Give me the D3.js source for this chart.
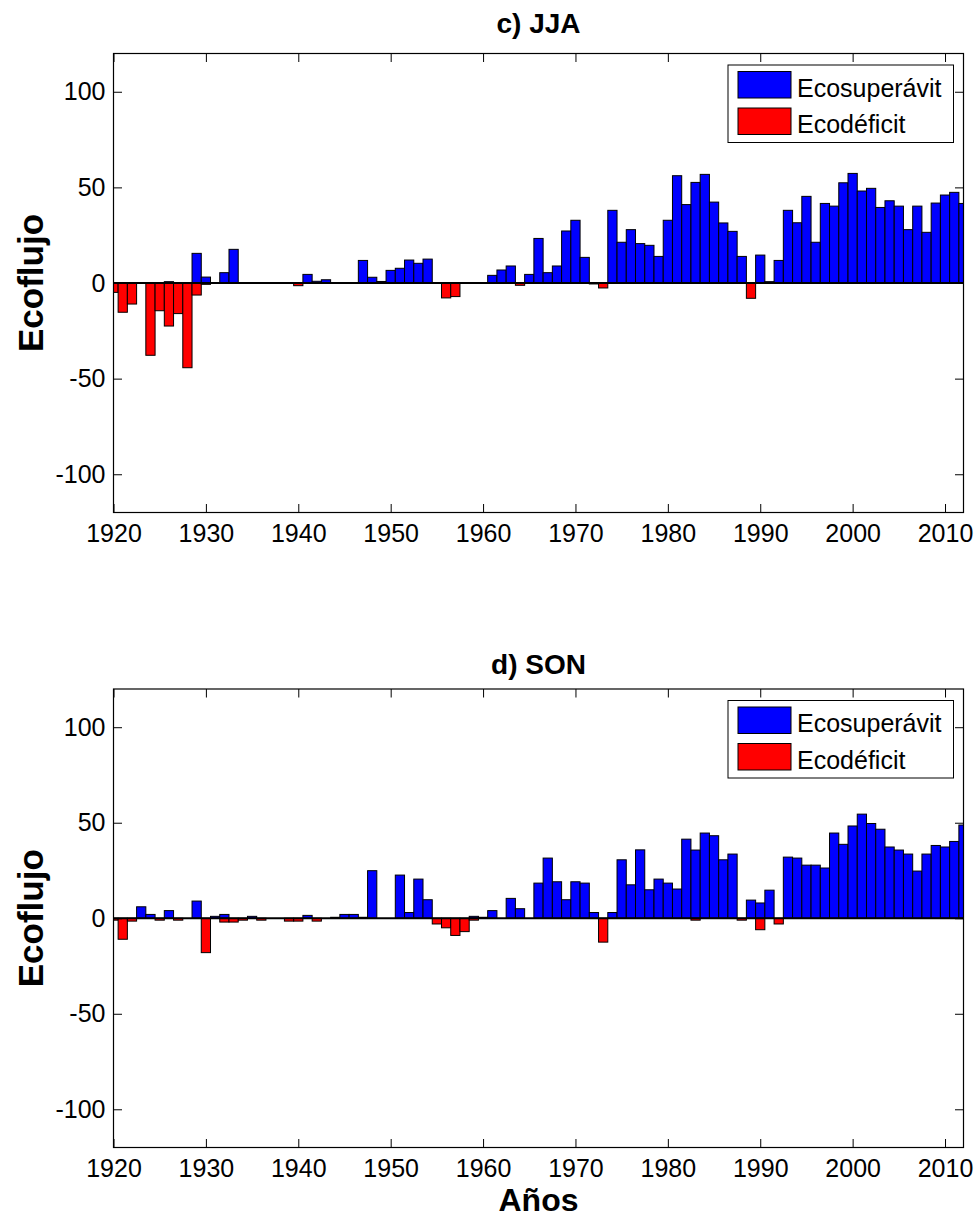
<!DOCTYPE html>
<html>
<head>
<meta charset="utf-8">
<script src="https://cdn.jsdelivr.net/npm/d3@7"></script>
<style>
  body { margin: 0; background: #fff; }
  svg { display: block; font-family: "Liberation Sans", Arial, sans-serif; }
</style>
</head>
<body>
<div id="chart"></div>
<script>
// ---------- DATA ----------
const years = d3.range(1920, 2013);
const xTicks = [1920, 1930, 1940, 1950, 1960, 1970, 1980, 1990, 2000, 2010];
const yTicks = [-100, -50, 0, 50, 100];
const titles = ["c) JJA", "d) SON"];
const seriesNames = ["Ecosuperávit", "Ecodéficit"];
const yLabel = "Ecoflujo";
const xLabel = "Años";

const jjaSurplus = [
  0, 0, 0, 0, 0, 0, 0.7, 0, 0, 15.5,
  3.1, 0, 5.4, 17.6, 0, 0, 0, 0, 0, 0,
  0, 4.5, 0.9, 1.7, 0, 0, 0, 11.8, 3, 0.8,
  6.6, 7.7, 12, 10.3, 12.5, 0, 0, 0, 0, 0,
  0, 4, 6.8, 8.9, 0, 4.5, 23.3, 5.4, 8.9, 27.2,
  32.8, 13.4, 0, 0, 38, 21.3, 27.9, 20.6, 19.7, 13.9,
  32.8, 56.1, 41, 52.6, 56.8, 42.3, 31.4, 27, 13.9, 0,
  14.6, 0.7, 11.8, 38, 31.5, 45.3, 21.3, 41.6, 40.2, 52.4,
  57.3, 48.1, 49.5, 39.5, 43, 40.2, 27.9, 40.2, 26.5, 41.8,
  46, 47.4, 41.6
];
const jjaDeficit = [
  -4.9, -15.3, -11, 0, -37.8, -14.5, -22.5, -16, -44.3, -6.3,
  -0.7, 0, 0, 0, 0, 0, 0, 0, 0, 0,
  -1.4, 0, 0, 0, 0, 0, 0, 0, 0, 0,
  0, 0, 0, 0, 0, 0, -7.8, -7.1, 0, 0,
  0, 0, 0, 0, -1.2, 0, 0, 0, 0, 0,
  0, 0, -0.5, -2.6, 0, 0, 0, 0, 0, 0,
  0, 0, 0, 0, 0, 0, 0, 0, 0, -8,
  0, 0, 0, 0, 0, 0, 0, 0, 0, 0,
  0, 0, 0, 0, 0, 0, 0, 0, 0, 0,
  0, 0, 0
];
const sonSurplus = [
  0, 0, 0, 6, 2, 0, 4, 0, 0, 9,
  0, 1, 2, 0, 0, 1, 0, 0, 0, 0,
  0, 1.5, 0, 0, 0.5, 2, 2, 0.5, 24.9, 0,
  0, 22.6, 3, 20.5, 9.7, 0, 0, 0, 0, 1,
  0.5, 4, 0, 10.4, 5, 0, 18.4, 31.5, 19.1, 9.7,
  19.1, 18.4, 3, 0, 3, 30.6, 17.5, 35.8, 14.9, 20.5,
  18.4, 15.3, 41.4, 35.7, 44.6, 43.2, 30.6, 33.6, 0, 9.5,
  8, 14.7, 0, 32, 31.5, 27.8, 27.8, 26.3, 44.6, 38.7,
  48.3, 54.5, 49.6, 46.6, 37.3, 35.7, 33.6, 24.7, 33.6, 38.1,
  37.3, 40.2, 48.8
];
const sonDeficit = [
  -1, -11, -1.5, 0, 0, -1, 0, -1, 0, 0,
  -18, 0, -2, -2, -1, 0, -1, 0, 0, -1.5,
  -1.5, 0, -1.5, 0, 0, 0, 0, 0, 0, 0,
  0, 0, 0, 0, 0, -3, -5, -9, -7, -1,
  0, 0, 0, 0, 0, 0, 0, 0, 0, 0,
  0, 0, 0, -12.5, 0, 0, 0, 0, 0, 0,
  0, 0, 0, -1, 0, 0, 0, 0, -1, 0,
  -6, 0, -3, 0, 0, 0, 0, 0, 0, 0,
  0, 0, 0, 0, 0, 0, 0, 0, 0, 0,
  0, 0, 0
];
const colors = ["#0000ff", "#ff0000"];

// ---------- LAYOUT ----------
const W = 976, H = 1218;
const left = 113.5, right = 963.5;
const panels = [
  { top: 53.5, bottom: 512.5, surplus: jjaSurplus, deficit: jjaDeficit, title: titles[0], titleY: 33 },
  { top: 689, bottom: 1147.5, surplus: sonSurplus, deficit: sonDeficit, title: titles[1], titleY: 674 }
];

const svg = d3.select("#chart").append("svg").attr("width", W).attr("height", H);
const x = d3.scaleLinear().domain([1920, 2012]).range([left, right]);
const tickLen = 8.5;
const fontTick = 25;

panels.forEach((p, i) => {
  const y = d3.scaleLinear().domain([-120, 120]).range([p.bottom, p.top]);
  const g = svg.append("g");
  const clipId = "clip" + i;
  svg.append("clipPath").attr("id", clipId).append("rect")
    .attr("x", left).attr("y", p.top).attr("width", right - left).attr("height", p.bottom - p.top);

  const plot = g.append("g").attr("clip-path", `url(#${clipId})`);
  [p.surplus, p.deficit].forEach((vals, s) => {
    const data = years.map((yr, k) => ({ yr, v: vals[k] })).filter(d => d.v !== 0);
    plot.selectAll(null).data(data).enter().append("rect")
      .attr("x", d => x(d.yr - 0.5))
      .attr("width", d => x(d.yr + 0.5) - x(d.yr - 0.5))
      .attr("y", d => y(Math.max(0, d.v)))
      .attr("height", d => Math.abs(y(d.v) - y(0)))
      .attr("fill", colors[s])
      .attr("stroke", "#000")
      .attr("stroke-width", 1);
  });
  // baseline
  plot.append("line").attr("x1", left).attr("x2", right)
    .attr("y1", y(0)).attr("y2", y(0)).attr("stroke", "#000").attr("stroke-width", 2);

  const fmt = d => String(d);
  const axB = d3.axisBottom(x).tickValues(xTicks).tickFormat(fmt).tickSizeInner(-tickLen).tickSizeOuter(0).tickPadding(12);
  const axT = d3.axisTop(x).tickValues(xTicks).tickFormat("").tickSizeInner(-tickLen).tickSizeOuter(0);
  const axL = d3.axisLeft(y).tickValues(yTicks).tickFormat(fmt).tickSizeInner(-tickLen).tickSizeOuter(0).tickPadding(8);
  const axR = d3.axisRight(y).tickValues(yTicks).tickFormat("").tickSizeInner(-tickLen).tickSizeOuter(0);
  [[axB, `translate(0,${p.bottom})`], [axT, `translate(0,${p.top})`], [axL, `translate(${left},0)`], [axR, `translate(${right},0)`]]
    .forEach(([ax, tr]) => {
      const a = g.append("g").attr("transform", tr).call(ax);
      a.select(".domain").remove();
      a.selectAll("line").attr("stroke", "#000").attr("stroke-width", 1);
      a.selectAll("text").attr("font-size", fontTick).attr("fill", "#000")
        .attr("font-family", "Liberation Sans, Arial, sans-serif");
    });
  g.append("rect").attr("x", left).attr("y", p.top).attr("width", right - left).attr("height", p.bottom - p.top)
    .attr("fill", "none").attr("stroke", "#000").attr("stroke-width", 1.2);

  g.append("text").attr("x", (left + right) / 2).attr("y", p.titleY)
    .attr("text-anchor", "middle").attr("font-size", 28).attr("font-weight", "bold").text(p.title);

  g.append("text").attr("transform", `translate(43,${y(0)}) rotate(-90)`)
    .attr("text-anchor", "middle").attr("font-size", 35).attr("font-weight", "bold").text(yLabel);

  const lg = g.append("g").attr("transform", `translate(728,${p.top + 11.5})`);
  lg.append("rect").attr("x", 0).attr("y", 0).attr("width", 225.5).attr("height", 77.5)
    .attr("fill", "#fff").attr("stroke", "#000").attr("stroke-width", 1);
  seriesNames.forEach((nm, s) => {
    lg.append("rect").attr("x", 10).attr("y", 6.5 + s * 36.5).attr("width", 53).attr("height", 26.5)
      .attr("fill", colors[s]).attr("stroke", "#000").attr("stroke-width", 1);
    lg.append("text").attr("x", 69).attr("y", 31.5 + s * 36.5).attr("font-size", 25).text(nm);
  });
});

svg.append("text").attr("x", (left + right) / 2).attr("y", 1211)
  .attr("text-anchor", "middle").attr("font-size", 32).attr("font-weight", "bold").text(xLabel);
</script>
</body>
</html>
